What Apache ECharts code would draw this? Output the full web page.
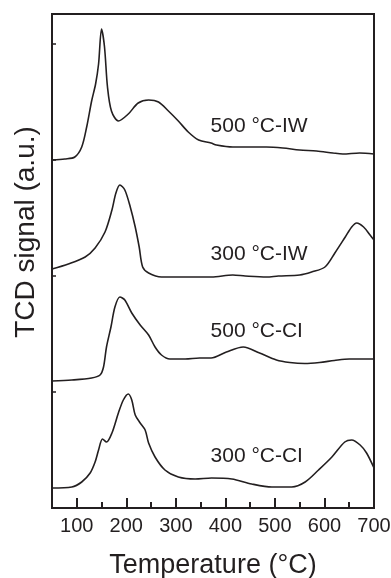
<!DOCTYPE html>
<html>
<head>
<meta charset="utf-8">
<script src="https://cdn.jsdelivr.net/npm/echarts@6/dist/echarts.min.js"></script>
<style>
  html, body { margin: 0; padding: 0; background: #fff; }
  #main { width: 391px; height: 578px; }
</style>
</head>
<body>
<div id="main"></div>
<script>
// 曲线名称（按从上到下的顺序）
const sampleNames = ['500 °C-IW', '300 °C-IW', '500 °C-CI', '300 °C-CI'];

// 温度 (°C) 和 TCD 信号 (a.u.，已包含各曲线的纵向偏移)
const tIW500 = [50, 76, 96, 110, 120, 130, 138, 144, 150, 156, 162, 170, 184, 204, 224, 245, 265, 285, 305, 325, 346, 371, 382, 415, 449, 483, 516, 550, 584, 617, 637, 671, 700];
const sIW500 = [348, 349, 351, 361, 381, 407, 424, 444, 479, 461, 421, 397, 387, 394, 405, 408, 406, 397, 387, 376, 368, 365, 363, 361, 361, 361, 360, 358, 357, 355, 354, 355, 354];

const tIW300 = [50, 83, 117, 137, 157, 171, 179, 187, 197, 208, 218, 226, 233, 245, 271, 305, 339, 372, 415, 440, 483, 507, 550, 574, 601, 621, 642, 655, 665, 679, 692, 700];
const sIW300 = [239, 244, 251, 260, 276, 298, 315, 323, 318, 301, 281, 261, 241, 235, 231, 231, 231, 231, 233, 232, 231, 232, 233, 236, 241, 255, 271, 281, 285, 281, 273, 268];

const tCI500 = [50, 90, 130, 147, 154, 160, 169, 177, 187, 197, 211, 228, 245, 258, 271, 288, 319, 348, 371, 402, 436, 469, 503, 530, 560, 590, 620, 650, 700];
const sCI500 = [127, 128, 130, 133, 141, 161, 181, 201, 211, 208, 195, 183, 173, 161, 153, 149, 149, 150, 150, 156, 161, 155, 148, 145.5, 144.5, 145.5, 147.5, 149, 149];

const tCI300 = [50, 90, 110, 127, 137, 144, 152, 160, 171, 184, 194, 204, 211, 218, 228, 238, 245, 258, 278, 305, 339, 372, 413, 453, 494, 534, 561, 588, 615, 641, 655, 672, 685, 700];
const sCI300 = [20, 21, 26, 35, 46, 58, 69, 66, 75, 95, 108, 114, 108, 93, 85, 78, 65, 51, 38, 31, 29, 30, 29, 24, 21, 21, 26, 38, 51, 66, 68, 63, 55, 40];

// 标注文字的位置（温度, 信号）
const labelTemp = [370, 370, 370, 370];
const labelSignal = [382, 254, 177, 52];

// 坐标轴刻度
const majorTicks = [100, 200, 300, 400, 500, 600, 700];

const FONT = 'Liberation Sans, Arial, Helvetica, sans-serif';
const INK = '#231f20';

function toPairs(xs, ys) {
  const out = [];
  for (let i = 0; i < xs.length; i++) out.push([xs[i], ys[i]]);
  return out;
}

const curves = [
  toPairs(tIW500, sIW500),
  toPairs(tIW300, sIW300),
  toPairs(tCI500, sCI500),
  toPairs(tCI300, sCI300)
];

const chart = echarts.init(document.getElementById('main'), null, { renderer: 'canvas' });

const series = curves.map(function (data, i) {
  return {
    name: sampleNames[i],
    type: 'line',
    xAxisIndex: 0,
    yAxisIndex: 0,
    data: data,
    smooth: 0.3,
    symbol: 'none',
    lineStyle: { color: INK, width: 1.6 },
    silent: true,
    markPoint: {
      symbol: 'circle',
      symbolSize: 0,
      silent: true,
      data: [{
        coord: [labelTemp[i], labelSignal[i]],
        label: {
          show: true,
          position: 'right',
          distance: 0,
          formatter: sampleNames[i],
          color: INK,
          fontFamily: FONT,
          fontSize: 21
        }
      }]
    }
  };
});

const option = {
  animation: false,
  backgroundColor: '#fff',
  grid: {
    left: 52,
    right: 17,
    top: 14,
    bottom: 70,
    containLabel: false,
    outerBoundsMode: 'none',
    show: true,
    borderColor: INK,
    borderWidth: 2,
    backgroundColor: 'transparent'
  },
  xAxis: [{
    // 次刻度（每 50 °C）与刻度标签
    type: 'value',
    min: 50,
    max: 700,
    interval: 50,
    name: 'Temperature (°C)',
    nameLocation: 'middle',
    nameGap: 44,
    nameTextStyle: { fontFamily: FONT, fontSize: 27, color: INK },
    axisLine: { show: true, onZero: false, lineStyle: { color: INK, width: 2 } },
    axisTick: { show: true, inside: true, length: 6, lineStyle: { color: INK, width: 2 } },
    axisLabel: {
      show: true,
      margin: 8,
      fontFamily: FONT,
      fontSize: 20,
      color: INK,
      formatter: function (v) { return majorTicks.indexOf(v) >= 0 ? String(v) : ''; }
    },
    splitLine: { show: false }
  }, {
    // 主刻度（每 100 °C）
    type: 'value',
    min: 50,
    max: 700,
    position: 'bottom',
    axisLine: { show: false, onZero: false },
    axisTick: { show: true, inside: true, length: 10, customValues: majorTicks, lineStyle: { color: INK, width: 2 } },
    axisLabel: { show: false, customValues: majorTicks },
    splitLine: { show: false }
  }],
  yAxis: {
    type: 'value',
    min: 0,
    max: 494,
    interval: 116,
    axisLine: { show: true, onZero: false, lineStyle: { color: INK, width: 2 } },
    axisTick: { show: true, inside: true, length: 4, lineStyle: { color: INK, width: 1.5 } },
    axisLabel: { show: false },
    splitLine: { show: false }
  },
  graphic: [{
    type: 'text',
    x: 26,
    y: 232,
    rotation: Math.PI / 2,
    silent: true,
    style: {
      text: 'TCD signal (a.u.)',
      fontFamily: FONT,
      fontSize: 28,
      fill: INK,
      align: 'center',
      verticalAlign: 'middle'
    }
  }],
  series: series
};

chart.setOption(option);
</script>
</body>
</html>
